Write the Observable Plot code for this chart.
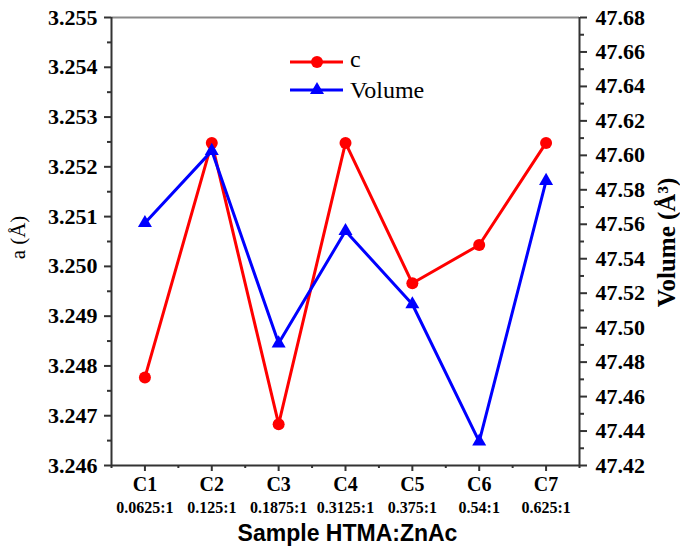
<!DOCTYPE html>
<html>
<head>
<meta charset="utf-8">
<script src="https://cdn.jsdelivr.net/npm/d3@7"></script>
<script src="https://cdn.jsdelivr.net/npm/@observablehq/plot@0.6"></script>
<style>
  html, body { margin: 0; padding: 0; background: #fff; }
  #chart { position: relative; width: 680px; height: 554px; }
</style>
</head>
<body>
<div id="chart"></div>
<script>
// ---- data ----
const categories = ["C1", "C2", "C3", "C4", "C5", "C6", "C7"];
const ratios = ["0.0625:1", "0.125:1", "0.1875:1", "0.3125:1", "0.375:1", "0.54:1", "0.625:1"];
const cValues = [3.24777, 3.25248, 3.24683, 3.25248, 3.24966, 3.25043, 3.25248];
const volumeValues = [47.5607, 47.6026, 47.4909, 47.5561, 47.5136, 47.4339, 47.5852];
const aTicks = [3.246, 3.247, 3.248, 3.249, 3.250, 3.251, 3.252, 3.253, 3.254, 3.255];
const volTicks = [47.42, 47.44, 47.46, 47.48, 47.50, 47.52, 47.54, 47.56, 47.58, 47.60, 47.62, 47.64, 47.66, 47.68];
const seriesNames = ["c", "Volume"];

// ---- scale mapping (volume -> left axis units) ----
const aMin = 3.246, aMax = 3.255, vMin = 47.42, vMax = 47.68;
const toLeft = v => aMin + (v - vMin) * (aMax - aMin) / (vMax - vMin);

const xPos = (d, i) => i + 1;
const majorX = categories.map((d, i) => i + 1);
const minorX = d3.range(0, categories.length + 1).map(i => i + 0.5);
const minorA = aTicks.slice(0, -1).map(t => t + 0.0005);
const minorV = volTicks.slice(0, -1).map(t => toLeft(t + 0.01));

const axisColor = "#333";
const serif = "Liberation Serif, Times New Roman, serif";
const noText = () => "";

const plot = Plot.plot({
  width: 680,
  height: 554,
  marginLeft: 111,
  marginRight: 101,
  marginTop: 17,
  marginBottom: 89,
  x: {domain: [0.5, categories.length + 0.5], axis: null},
  y: {domain: [aMin, aMax], axis: null},
  style: {fontFamily: serif, background: "#fff", color: "#000", overflow: "visible"},
  marks: [
    // frame
    Plot.ruleY([aMax], {stroke: "#8a8a8a", strokeWidth: 2}),
    Plot.ruleY([aMin], {stroke: axisColor, strokeWidth: 2}),
    Plot.ruleX([0.5, categories.length + 0.5], {stroke: axisColor, strokeWidth: 2}),
    // left axis
    Plot.axisY(minorA, {anchor: "left", tickSize: 4, stroke: axisColor, strokeWidth: 2, tickFormat: noText, label: null}),
    Plot.axisY(aTicks, {anchor: "left", tickSize: 7, stroke: axisColor, strokeWidth: 2, tickFormat: noText, label: null}),
    Plot.text(aTicks, {y: d => d, frameAnchor: "left", textAnchor: "end", dx: -14, text: d => d.toFixed(3),
      fontSize: 22, fontWeight: "bold", fill: "#000"}),
    // right axis (volume)
    Plot.axisY(minorV, {anchor: "right", tickSize: 4, stroke: axisColor, strokeWidth: 2, tickFormat: noText, label: null}),
    Plot.axisY(volTicks.map(toLeft), {anchor: "right", tickSize: 7, stroke: axisColor, strokeWidth: 2, tickFormat: noText, label: null}),
    Plot.text(volTicks, {y: d => toLeft(d), frameAnchor: "right", textAnchor: "start", dx: 16, text: d => d.toFixed(2),
      fontSize: 22, fontWeight: "bold", fill: "#000"}),
    // bottom axis
    Plot.axisX(minorX, {anchor: "bottom", tickSize: 3, stroke: axisColor, strokeWidth: 2, tickFormat: noText, label: null}),
    Plot.axisX(majorX, {anchor: "bottom", tickSize: 6, stroke: axisColor, strokeWidth: 2, tickFormat: noText, label: null}),
    Plot.text(categories, {x: xPos, frameAnchor: "bottom", dy: 25, fontSize: 20, fontWeight: "bold", fill: "#000"}),
    Plot.text(ratios, {x: xPos, frameAnchor: "bottom", dy: 47, fontSize: 16, fontWeight: "bold", fill: "#000"}),
    // axis titles
    Plot.text(["Sample HTMA:ZnAc"], {frameAnchor: "bottom", dy: 75, dx: 2, fontSize: 23, fontWeight: "bold",
      fontFamily: "Liberation Sans, Arial, sans-serif", fill: "#000"}),
    Plot.text(["a (Å)"], {frameAnchor: "left", textAnchor: "middle", rotate: -90, dx: -93, dy: -4, fontSize: 21, fill: "#000"}),
    Plot.text(["Volume (Å³)"], {frameAnchor: "right", textAnchor: "middle", rotate: -90, dx: 87, dy: 1, fontSize: 25, fontWeight: "bold", fill: "#000"}),
    // series
    Plot.line(cValues, {x: xPos, y: d => d, stroke: "#ff0000", strokeWidth: 3}),
    Plot.line(volumeValues, {x: xPos, y: d => toLeft(d), stroke: "#0000ff", strokeWidth: 3}),
    Plot.dot(cValues, {x: xPos, y: d => d, r: 6, fill: "#ff0000", stroke: "none"}),
    Plot.dot(volumeValues, {x: xPos, y: d => toLeft(d), r: 5.2, symbol: "triangle", fill: "#0000ff", stroke: "none"})
  ]
});

// in-plot legend
const legend = d3.select(plot).append("g").attr("font-family", serif).attr("font-size", 24).attr("text-anchor", "start");
const legendColors = ["#ff0000", "#0000ff"];
seriesNames.forEach((name, i) => {
  const y = 62 + i * 28;
  const g = legend.append("g").attr("transform", `translate(290,${y})`);
  g.append("line").attr("x1", 0).attr("x2", 53).attr("stroke", legendColors[i]).attr("stroke-width", 3);
  if (i === 0) g.append("circle").attr("cx", 27).attr("r", 6).attr("fill", legendColors[i]);
  else g.append("path").attr("d", d3.symbol(d3.symbolTriangle, 5.2 * 5.2 * Math.PI)()).attr("transform", "translate(27,0)").attr("fill", legendColors[i]);
  g.append("text").attr("x", 60).attr("y", i === 0 ? 5 : 8).attr("fill", "#000").attr("text-anchor", "start").text(name);
});

document.getElementById("chart").appendChild(plot);
</script>
</body>
</html>
